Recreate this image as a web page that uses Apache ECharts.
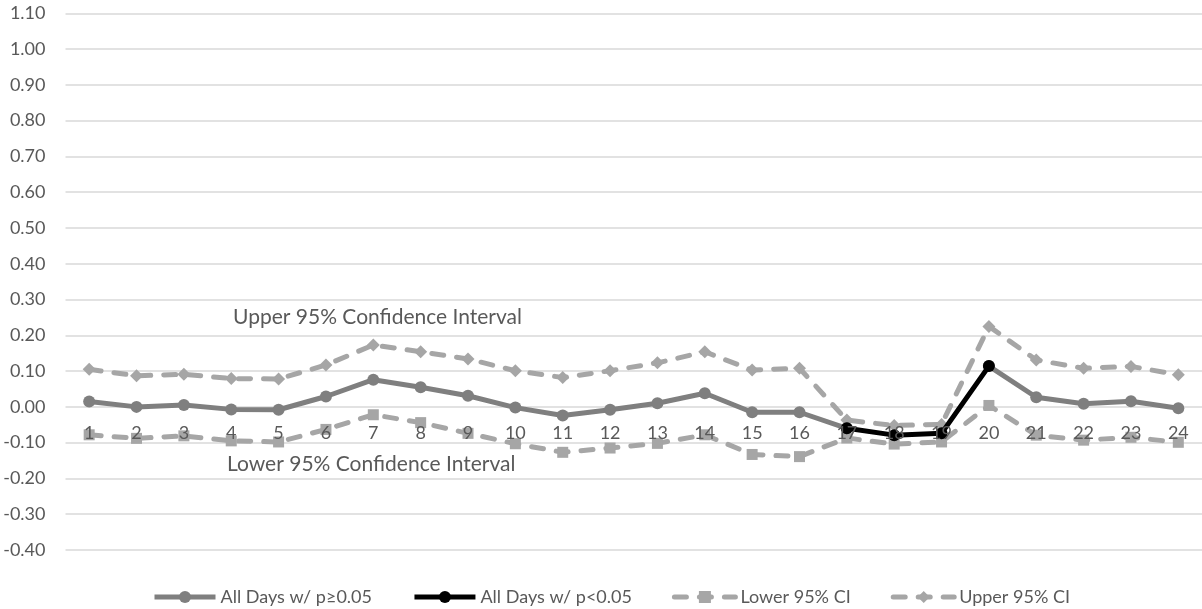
<!DOCTYPE html>
<html>
<head>
<meta charset="utf-8">
<script src="https://cdn.jsdelivr.net/npm/echarts@6/dist/echarts.min.js"></script>
<style>
  html, body { margin: 0; padding: 0; background: #ffffff; }
  #chart { width: 1202px; height: 609px; }
</style>
</head>
<body>
<div id="chart"></div>
<script>
// Day index along the x axis
const days = ['1','2','3','4','5','6','7','8','9','10','11','12',
              '13','14','15','16','17','18','19','20','21','22','23','24'];

// Estimated effect for days with p >= 0.05 (gap where the significant run sits)
const allDaysNs = [0.015, 0.000, 0.005, -0.007, -0.008, 0.029, 0.076, 0.055,
                   0.031, -0.002, -0.024, -0.008, 0.010, 0.038, -0.015, -0.015,
                   -0.060, null, null, 0.114, 0.027, 0.009, 0.016, -0.004];

// Estimated effect for the run of days with p < 0.05
const allDaysSig = [null, null, null, null, null, null, null, null,
                    null, null, null, null, null, null, null, null,
                    -0.060, -0.079, -0.074, 0.114, null, null, null, null];

// 95% confidence bounds
const lowerCI = [-0.078, -0.088, -0.081, -0.095, -0.098, -0.063, -0.022, -0.044,
                 -0.074, -0.103, -0.127, -0.115, -0.102, -0.078, -0.133, -0.139,
                 -0.087, -0.104, -0.098, 0.004, -0.079, -0.093, -0.085, -0.099];
const upperCI = [0.105, 0.087, 0.091, 0.079, 0.078, 0.117, 0.173, 0.154,
                 0.134, 0.101, 0.082, 0.101, 0.123, 0.154, 0.103, 0.108,
                 -0.037, -0.052, -0.049, 0.225, 0.131, 0.108, 0.113, 0.090];

// Value axis range
const yMin = -0.4;
const yMax = 1.1;
const yStep = 0.1;

const FONT = 'Lato';
const TEXT = '#595959';
const GRID = '#d9d9d9';
const MAIN = '#7f7f7f';
const CI = '#a6a6a6';

const chart = echarts.init(document.getElementById('chart'), null, { renderer: 'canvas' });

const dashed = (color) => ({ color: color, width: 5, type: [12, 13], cap: 'round' });

chart.setOption({
  animation: false,
  backgroundColor: '#ffffff',
  textStyle: { fontFamily: FONT },
  grid: { left: 65.5, right: -8.3, top: 13.3, bottom: 59, containLabel: false },
  xAxis: {
    type: 'category',
    data: days,
    boundaryGap: true,
    position: 'bottom',
    offset: 0,
    z: 10,
    axisLine: { show: false, onZero: false },
    axisTick: { show: false },
    axisLabel: { color: TEXT, fontSize: 18, fontFamily: FONT, margin: 17, interval: 0 },
    splitLine: { show: false }
  },
  yAxis: {
    type: 'value',
    min: yMin,
    max: yMax,
    interval: yStep,
    axisLine: { show: false },
    axisTick: { show: false },
    axisLabel: {
      color: TEXT, fontSize: 18, fontFamily: FONT, margin: 20,
      formatter: (v) => (Math.abs(v) < 1e-9 ? 0 : v).toFixed(2)
    },
    splitLine: { show: true, lineStyle: { color: GRID, width: 1.5 } }
  },
  legend: {
    left: 152,
    top: 588,
    padding: 0,
    itemWidth: 61,
    itemHeight: 15,
    itemGap: 40,
    lineStyle: { width: 5 },
    textStyle: { color: TEXT, fontSize: 18, fontFamily: FONT },
    data: ['All Days w/ p≥0.05', 'All Days w/ p<0.05', 'Lower 95% CI', 'Upper 95% CI']
  },
  series: [
    {
      name: 'Lower 95% CI',
      type: 'line',
      data: lowerCI,
      symbol: 'rect',
      symbolSize: 11,
      itemStyle: { color: CI },
      lineStyle: dashed(CI),
      z: 2
    },
    {
      name: 'Upper 95% CI',
      type: 'line',
      data: upperCI,
      symbol: 'diamond',
      symbolSize: 13,
      itemStyle: { color: CI },
      lineStyle: dashed(CI),
      z: 2
    },
    {
      name: 'All Days w/ p≥0.05',
      type: 'line',
      data: allDaysNs,
      symbol: 'circle',
      symbolSize: 12,
      connectNulls: false,
      itemStyle: { color: MAIN },
      lineStyle: { color: MAIN, width: 5 },
      z: 3
    },
    {
      name: 'All Days w/ p<0.05',
      type: 'line',
      data: allDaysSig,
      symbol: 'circle',
      symbolSize: 12,
      connectNulls: false,
      itemStyle: { color: '#000000' },
      lineStyle: { color: '#000000', width: 5 },
      z: 4
    }
  ],
  graphic: [
    {
      type: 'text', left: 233, top: 307,
      style: { text: 'Upper 95% Confidence Interval', fill: TEXT, font: '21px ' + FONT }
    },
    {
      type: 'text', left: 227, top: 454,
      style: { text: 'Lower 95% Confidence Interval', fill: TEXT, font: '21px ' + FONT }
    }
  ]
});

// Put the category axis labels on the zero line of the value axis
const zeroY = chart.convertToPixel({ yAxisIndex: 0 }, 0);
const floorY = chart.convertToPixel({ yAxisIndex: 0 }, yMin);
chart.setOption({ xAxis: { offset: zeroY - floorY } });
</script>
</body>
</html>
